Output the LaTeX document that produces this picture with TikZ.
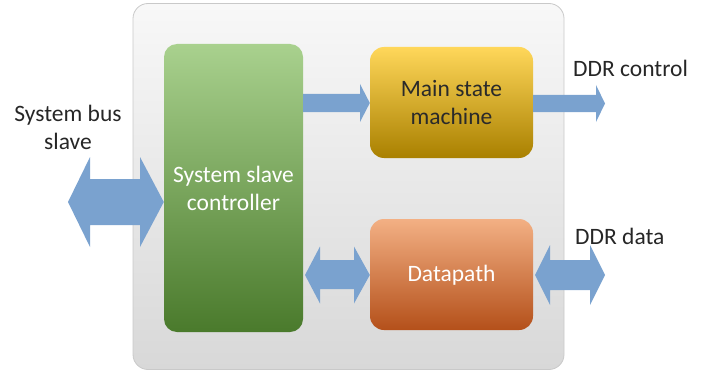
\documentclass[tikz,border=0pt]{standalone}
\usepackage{fontspec}
\setmainfont{Carlito}
\usetikzlibrary{calc}
\definecolor{arrowblue}{HTML}{7AA2CF}
\definecolor{txtdark}{HTML}{262626}
\definecolor{boxborder}{HTML}{C9C9C9}
\definecolor{gtop}{HTML}{A9D18E}
\definecolor{gmid}{HTML}{72AE48}
\definecolor{gbot}{HTML}{4A7A2C}
\definecolor{ytop}{HTML}{FFD75A}
\definecolor{ymid}{HTML}{FFC000}
\definecolor{ybot}{HTML}{A98000}
\definecolor{otop}{HTML}{F3B084}
\definecolor{omid}{HTML}{ED7D31}
\definecolor{obot}{HTML}{B4501A}
\definecolor{ctop}{HTML}{F8F8F8}
\definecolor{cbot}{HTML}{D8D8D8}
\definecolor{fsmtext}{HTML}{2A2A2A}
\tikzset{
  container/.style={draw=boxborder, line width=0.8pt, rounded corners=15pt, top color=ctop, bottom color=cbot},
  greenbox/.style={rounded corners=13pt, top color=gtop, middle color=gmid, bottom color=gbot, draw=none},
  yellowbox/.style={rounded corners=14pt, top color=ytop, middle color=ymid, bottom color=ybot, draw=none},
  orangebox/.style={rounded corners=14pt, top color=otop, middle color=omid, bottom color=obot, draw=none},
  blockarrow/.style={fill=arrowblue, draw=none},
  lbl/.style={font=\fontsize{23.5}{28}\selectfont, text=txtdark, align=center, inner sep=0pt},
  wlbl/.style={font=\fontsize{23.5}{28}\selectfont, text=white, align=center, inner sep=0pt},
}
\begin{document}
\begin{tikzpicture}[x=1pt,y=-1pt]
\useasboundingbox (0,0) rectangle (703,377);
% container
\node[container, minimum width=431pt, minimum height=366pt, inner sep=0pt] (outer) at (348.5,186.5) {};
% blocks
\node[greenbox, minimum width=139pt, minimum height=288pt, inner sep=0pt] (ctrl) at (233.5,188) {};
\node[yellowbox, minimum width=163pt, minimum height=111pt, inner sep=0pt] (fsm) at (451.5,102.5) {};
\node[orangebox, minimum width=163pt, minimum height=111pt, inner sep=0pt] (dp) at (451.5,274.5) {};
\node[wlbl] (ctrltxt) at (ctrl.center) {System slave\\controller};
\node[lbl, text=fsmtext] (fsmtxt) at (451.5,103) {Main state\\machine};
\node[wlbl] (dptxt) at (451.5,275) {Datapath};
% block arrows
% controller -> main state machine
\fill[blockarrow] (ctrl.east |- 0,94) -- (360,94) -- (360,84) -- (fsm.west |- 0,103) -- (360,122) -- (360,112) -- (ctrl.east |- 0,112) -- cycle;
% main state machine -> DDR control
\coordinate (ddrc) at (605,103.5);
\fill[blockarrow] (fsm.east |- 0,95) -- (596,95) -- (596,85) -- (ddrc) -- (596,122) -- (596,112) -- (fsm.east |- 0,112) -- cycle;
% system bus double arrow
\coordinate (bus) at (68,202);
\fill[blockarrow] (bus) -- (90,157) -- (90,179) -- (140,179) -- (140,157) -- (ctrl.west |- 0,202) -- (140,247) -- (140,225) -- (90,225) -- (90,247) -- cycle;
% controller <-> datapath
\fill[blockarrow] (305,275) -- (320,246.5) -- (320,260) -- (354,260) -- (354,246.5) -- (dp.west |- 0,275) -- (354,303.5) -- (354,289) -- (320,289) -- (320,303.5) -- cycle;
% datapath <-> DDR data
\coordinate (ddrd) at (605,275);
\fill[blockarrow] (535,275) -- (550,245) -- (550,260) -- (590,260) -- (590,245) -- (ddrd) -- (590,305) -- (590,290) -- (550,290) -- (550,305) -- cycle;
% labels
\node[lbl] (bustxt) at (68,127) {System bus\\slave};
\node[lbl, anchor=west] (ddrctxt) at (573,68) {DDR control};
\node[lbl, anchor=west] (ddrdtxt) at (575,236) {DDR data};
\end{tikzpicture}
\end{document}
